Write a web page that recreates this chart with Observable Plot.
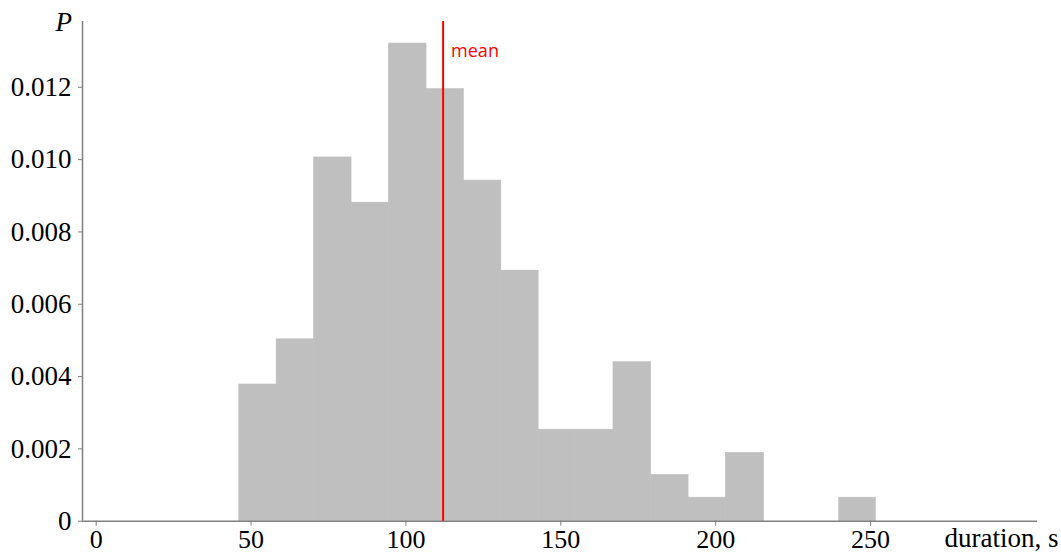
<!DOCTYPE html>
<html><head><meta charset="utf-8">
<script src="https://cdn.jsdelivr.net/npm/d3@7"></script>
<script src="https://cdn.jsdelivr.net/npm/@observablehq/plot@0.6"></script>
<style>body{margin:0;background:#fff}</style>
</head><body><div id="chart"></div>
<script>
// Histogram bin edges (duration, s) and densities P
const binEdges = [46.2, 58.25, 70.35, 82.45, 94.5, 106.65, 118.7, 130.8, 142.85, 154.9, 167.0, 179.2, 191.25, 203.3, 215.6, 227.7, 239.9, 251.7];
const densities = [0.00378, 0.00503, 0.01006, 0.00881, 0.01321, 0.01195, 0.00942, 0.00693, 0.00253, 0.00253, 0.0044, 0.00128, 0.00065, 0.00189, 0, 0, 0.00065];
const meanDuration = 112.0;
const xTicks = [0, 50, 100, 150, 200, 250];
const yTicks = [0, 0.002, 0.004, 0.006, 0.008, 0.010, 0.012];
const xLabel = "duration, s";
const yLabel = "P";
const meanLabel = "mean";

const bins = densities.map((p, i) => ({x1: binEdges[i], x2: binEdges[i + 1], p}));
const xMin = -4.42, xMax = 303.9;

const chart = Plot.plot({
  width: 1061, height: 553,
  marginLeft: 82, marginRight: 24, marginTop: 21, marginBottom: 32.3,
  x: {domain: [xMin, xMax]},
  y: {domain: [0, 0.01382]},
  style: {fontFamily: "'Liberation Serif', 'Times New Roman', serif", fontSize: "27px", color: "#000", background: "#fff"},
  marks: [
    Plot.rectY(bins.filter(b => b.p > 0), {x1: "x1", x2: "x2", y: "p", fill: "#bfbfbf", stroke: "#bfbfbf", strokeWidth: 0.6}),
    Plot.ruleY([0], {stroke: "#808080", strokeWidth: 1.5}),
    Plot.ruleX([xMin], {stroke: "#808080", strokeWidth: 1.5}),
    Plot.axisX({ticks: xTicks, tickSize: 5, tickPadding: 3, fontSize: 26, stroke: "#808080", fill: "#000", label: null, tickFormat: d => String(d)}),
    Plot.axisY({ticks: yTicks, tickSize: 4, tickPadding: 7, stroke: "#808080", fill: "#000", label: null, tickFormat: d => d === 0 ? "0" : d.toFixed(3)}),
    Plot.ruleX([meanDuration], {stroke: "#ff0000", strokeWidth: 2}),
    Plot.text([meanLabel], {x: meanDuration, frameAnchor: "top", textAnchor: "start", lineAnchor: "bottom", dx: 8, dy: 35.7, fill: "#ff0000", fontFamily: "'Open Sans', sans-serif", fontSize: 18}),
    Plot.text([yLabel], {frameAnchor: "top-left", textAnchor: "end", lineAnchor: "bottom", dx: -10.5, dy: 9.5, fontStyle: "italic", fontSize: 27, fill: "#000"}),
    Plot.text([xLabel], {frameAnchor: "bottom-right", textAnchor: "end", lineAnchor: "bottom", dx: 21, dy: 26, fontSize: 27, fill: "#000"})
  ]
});
document.getElementById("chart").appendChild(chart);
</script>
</body></html>
